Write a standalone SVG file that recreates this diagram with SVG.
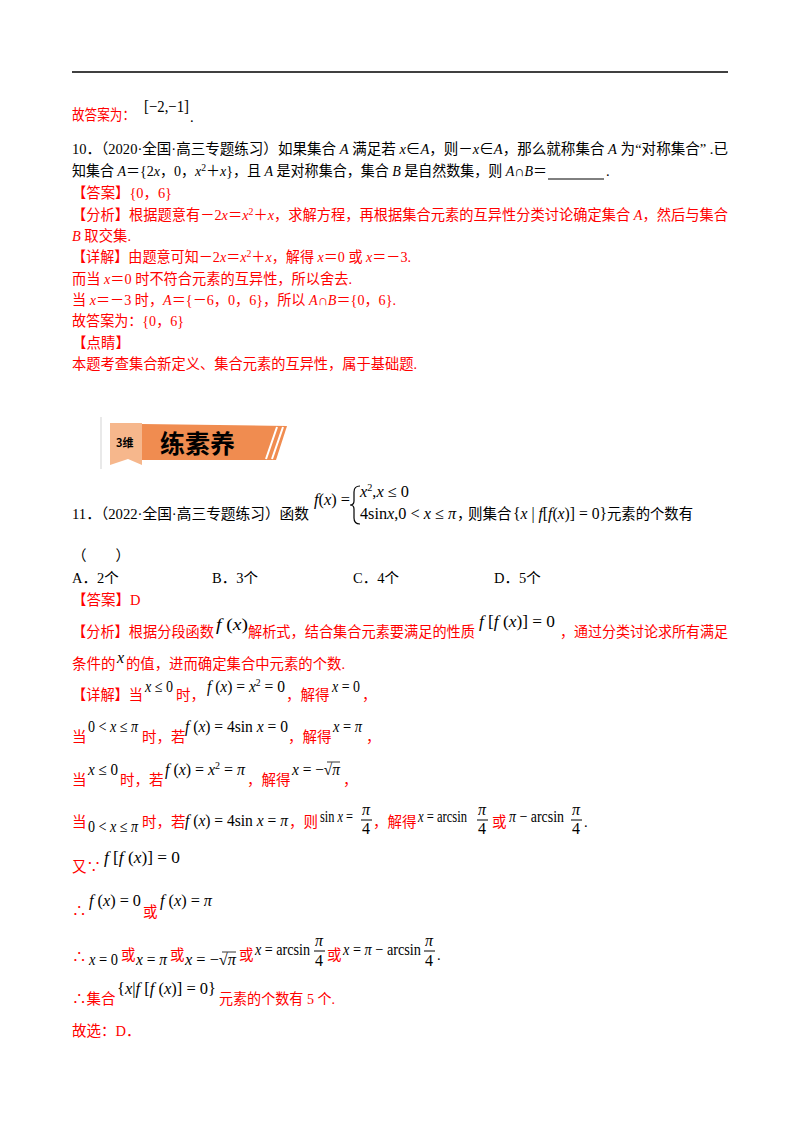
<svg xmlns="http://www.w3.org/2000/svg" width="800" height="1132" viewBox="0 0 800 1132">
<style>
text{font-family:"Liberation Serif","Noto Sans CJK SC",serif;font-size:14.5px;fill:#000}
.r{fill:#ff0000}
.m{font-family:"Liberation Serif",serif;font-size:16px;fill:#000}
.i{font-style:italic}
.s{font-size:10px}
</style>
<rect width="800" height="1132" fill="#fff"/>
<line x1="72" y1="72" x2="728" y2="72" stroke="#000" stroke-width="1.5"/>
<g id="q10">
<text x="72" y="120" class="r" textLength="63" lengthAdjust="spacingAndGlyphs">故答案为：</text>
<text x="144" y="112" class="m" textLength="45" lengthAdjust="spacingAndGlyphs">[−2,−1]</text>
<text x="190" y="122">.</text>
<text x="72" y="154" textLength="656" lengthAdjust="spacingAndGlyphs">10．（2020·全国·高三专题练习）如果集合 <tspan class="i">A</tspan> 满足若 <tspan class="i">x</tspan>∈<tspan class="i">A</tspan>，则－<tspan class="i">x</tspan>∈<tspan class="i">A</tspan>，那么就称集合 <tspan class="i">A</tspan> 为“对称集合” .已</text>
<text x="72" y="176" textLength="475" lengthAdjust="spacingAndGlyphs">知集合 <tspan class="i">A</tspan>＝{2<tspan class="i">x</tspan>，0，<tspan class="i">x</tspan><tspan class="s" dy="-5">2</tspan><tspan dy="5">＋</tspan><tspan class="i">x</tspan>}，且 <tspan class="i">A</tspan> 是对称集合，集合 <tspan class="i">B</tspan> 是自然数集，则 <tspan class="i">A</tspan>∩<tspan class="i">B</tspan>＝</text>
<line x1="548" y1="179" x2="604" y2="179" stroke="#000"/>
<text x="606" y="176">.</text>
<text x="72" y="198" class="r" textLength="100" lengthAdjust="spacingAndGlyphs">【答案】{0，6}</text>
<text x="72" y="220" class="r" textLength="656" lengthAdjust="spacingAndGlyphs">【分析】根据题意有－2<tspan class="i">x</tspan>＝<tspan class="i">x</tspan><tspan class="s" dy="-5">2</tspan><tspan dy="5">＋</tspan><tspan class="i">x</tspan>，求解方程，再根据集合元素的互异性分类讨论确定集合 <tspan class="i">A</tspan>，然后与集合</text>
<text x="72" y="241" class="r" textLength="59" lengthAdjust="spacingAndGlyphs"><tspan class="i">B</tspan> 取交集.</text>
<text x="72" y="262" class="r" textLength="339" lengthAdjust="spacingAndGlyphs">【详解】由题意可知－2<tspan class="i">x</tspan>＝<tspan class="i">x</tspan><tspan class="s" dy="-5">2</tspan><tspan dy="5">＋</tspan><tspan class="i">x</tspan>，解得 <tspan class="i">x</tspan>＝0 或 <tspan class="i">x</tspan>＝－3.</text>
<text x="72" y="284" class="r" textLength="280" lengthAdjust="spacingAndGlyphs">而当 <tspan class="i">x</tspan>＝0 时不符合元素的互异性，所以舍去.</text>
<text x="72" y="305" class="r" textLength="324" lengthAdjust="spacingAndGlyphs">当 <tspan class="i">x</tspan>＝－3 时，<tspan class="i">A</tspan>＝{－6，0，6}，所以 <tspan class="i">A</tspan>∩<tspan class="i">B</tspan>＝{0，6}.</text>
<text x="72" y="326" class="r" textLength="112" lengthAdjust="spacingAndGlyphs">故答案为：{0，6}</text>
<text x="72" y="348" class="r">【点睛】</text>
<text x="72" y="369" class="r" textLength="345" lengthAdjust="spacingAndGlyphs">本题考查集合新定义、集合元素的互异性，属于基础题.</text>
</g>
<g id="banner">
<line x1="101" y1="417" x2="101" y2="469" stroke="#e2e2e2" stroke-width="1.5"/>
<polygon points="142,424 287,426 276,460 142,460" fill="#f08c50"/>
<polygon points="110,423 142,423 142,465 128,459 110,465" fill="#f6b78c"/>
<path d="M266,459 L277,427 M272,459 L283,427 M278,459 L289,427" stroke="#fff" stroke-width="2"/>
<text x="116" y="447" style="font-family:'Noto Sans CJK SC',sans-serif;font-size:11px;font-weight:bold" fill="#333">3维</text>
<text x="160" y="453" style="font-family:'Noto Sans CJK SC',sans-serif;font-size:25px;font-weight:bold" fill="#2a1a10">练素养</text>
</g>
<g id="q11">
<text x="72" y="519" textLength="237" lengthAdjust="spacingAndGlyphs">11．（2022·全国·高三专题练习）函数</text>
<text x="314" y="505" class="m" textLength="36" lengthAdjust="spacingAndGlyphs"><tspan class="i">f</tspan>(<tspan class="i">x</tspan>) =</text>
<path d="M360,486 Q354,486 354,492 L354,501 Q354,505 350,505 Q354,505 354,509 L354,518 Q354,524 360,524" fill="none" stroke="#000" stroke-width="1.2"/>
<text x="360" y="497" class="m" textLength="49" lengthAdjust="spacingAndGlyphs"><tspan class="i">x</tspan><tspan class="s" dy="-6">2</tspan><tspan dy="6">,</tspan><tspan class="i">x</tspan> ≤ 0</text>
<text x="360" y="519" class="m" textLength="96" lengthAdjust="spacingAndGlyphs">4sin<tspan class="i">x</tspan>,0 &lt; <tspan class="i">x</tspan> ≤ <tspan class="i">π</tspan></text>
<text x="457" y="519">，</text>
<text x="468" y="519">则集合</text>
<text x="513" y="519" class="m" textLength="94" lengthAdjust="spacingAndGlyphs">{<tspan class="i">x</tspan> | <tspan class="i">f</tspan>[<tspan class="i">f</tspan>(<tspan class="i">x</tspan>)] = 0}</text>
<text x="607" y="519" textLength="86" lengthAdjust="spacingAndGlyphs">元素的个数有</text>
<text x="72" y="561">（　　）</text>
<text x="72" y="583">A．2个</text>
<text x="212" y="583">B．3个</text>
<text x="353" y="583">C．4个</text>
<text x="494" y="583">D．5个</text>
<text x="72" y="605" class="r">【答案】D</text>
<text x="72" y="637" class="r" textLength="142" lengthAdjust="spacingAndGlyphs">【分析】根据分段函数</text>
<text x="216" y="630" class="m" textLength="32" lengthAdjust="spacingAndGlyphs"><tspan class="i">f</tspan> (<tspan class="i">x</tspan>)</text>
<text x="248" y="637" class="r" textLength="227" lengthAdjust="spacingAndGlyphs">解析式，结合集合元素要满足的性质</text>
<text x="479" y="627" class="m" textLength="76" lengthAdjust="spacingAndGlyphs"><tspan class="i">f</tspan> [<tspan class="i">f</tspan> (<tspan class="i">x</tspan>)] = 0</text>
<text x="560" y="637" class="r" textLength="168" lengthAdjust="spacingAndGlyphs">，通过分类讨论求所有满足</text>
<text x="72" y="669" class="r">条件的</text>
<text x="117" y="663" class="m i">x</text>
<text x="126" y="669" class="r" textLength="219" lengthAdjust="spacingAndGlyphs">的值，进而确定集合中元素的个数.</text>

<text x="72" y="700" class="r" textLength="71" lengthAdjust="spacingAndGlyphs">【详解】当</text>
<text x="145" y="692" class="m" textLength="28" lengthAdjust="spacingAndGlyphs"><tspan class="i">x</tspan> ≤ 0</text>
<text x="176" y="700" class="r">时，</text>
<text x="207" y="692" class="m" textLength="78" lengthAdjust="spacingAndGlyphs"><tspan class="i">f</tspan> (<tspan class="i">x</tspan>) = <tspan class="i">x</tspan><tspan class="s" dy="-6">2</tspan><tspan dy="6"> = 0</tspan></text>
<text x="286" y="700" class="r">，解得</text>
<text x="332" y="692" class="m" textLength="28" lengthAdjust="spacingAndGlyphs"><tspan class="i">x</tspan> = 0</text>
<text x="362" y="700" class="r">，</text>

<text x="72" y="742" class="r">当</text>
<text x="88" y="732" class="m" textLength="50" lengthAdjust="spacingAndGlyphs">0 &lt; <tspan class="i">x</tspan> ≤ <tspan class="i">π</tspan></text>
<text x="142" y="742" class="r">时，若</text>
<text x="185" y="732" class="m" textLength="103" lengthAdjust="spacingAndGlyphs"><tspan class="i">f</tspan> (<tspan class="i">x</tspan>) = 4sin <tspan class="i">x</tspan> = 0</text>
<text x="288" y="742" class="r">，解得</text>
<text x="333" y="732" class="m" textLength="29" lengthAdjust="spacingAndGlyphs"><tspan class="i">x</tspan> = <tspan class="i">π</tspan></text>
<text x="366" y="742" class="r">，</text>

<text x="72" y="785" class="r">当</text>
<text x="88" y="775" class="m" textLength="30" lengthAdjust="spacingAndGlyphs"><tspan class="i">x</tspan> ≤ 0</text>
<text x="120" y="785" class="r">时，若</text>
<text x="165" y="775" class="m" textLength="80" lengthAdjust="spacingAndGlyphs"><tspan class="i">f</tspan> (<tspan class="i">x</tspan>) = <tspan class="i">x</tspan><tspan class="s" dy="-6">2</tspan><tspan dy="6"> = <tspan class="i">π</tspan></tspan></text>
<text x="247" y="785" class="r">，解得</text>
<text x="292" y="775" class="m" textLength="48" lengthAdjust="spacingAndGlyphs"><tspan class="i">x</tspan> = −√<tspan class="i">π</tspan></text>
<line x1="327" y1="762" x2="340" y2="762" stroke="#000" stroke-width="0.8"/>
<text x="343" y="785" class="r">，</text>

<text x="72" y="827" class="r">当</text>
<text x="88" y="832" class="m" textLength="50" lengthAdjust="spacingAndGlyphs">0 &lt; <tspan class="i">x</tspan> ≤ <tspan class="i">π</tspan></text>
<text x="142" y="827" class="r">时，若</text>
<text x="185" y="826" class="m" textLength="103" lengthAdjust="spacingAndGlyphs"><tspan class="i">f</tspan> (<tspan class="i">x</tspan>) = 4sin <tspan class="i">x</tspan> = <tspan class="i">π</tspan></text>
<text x="289" y="827" class="r">，则</text>
<text x="320" y="822" class="m" textLength="33" lengthAdjust="spacingAndGlyphs">sin <tspan class="i">x</tspan> =</text>
<text x="362" y="815" class="m i">π</text><line x1="361" y1="820" x2="372" y2="820" stroke="#000"/><text x="362" y="834" class="m">4</text>
<text x="373" y="827" class="r">，解得</text>
<text x="418" y="822" class="m" textLength="49" lengthAdjust="spacingAndGlyphs"><tspan class="i">x</tspan> = arcsin</text>
<text x="478" y="815" class="m i">π</text><line x1="477" y1="820" x2="488" y2="820" stroke="#000"/><text x="478" y="834" class="m">4</text>
<text x="492" y="827" class="r">或</text>
<text x="509" y="822" class="m" textLength="55" lengthAdjust="spacingAndGlyphs"><tspan class="i">π</tspan> − arcsin</text>
<text x="572" y="815" class="m i">π</text><line x1="571" y1="820" x2="582" y2="820" stroke="#000"/><text x="572" y="834" class="m">4</text>
<text x="584" y="827">.</text>

<text x="72" y="872" class="r">又∵</text>
<text x="104" y="863" class="m" textLength="76" lengthAdjust="spacingAndGlyphs"><tspan class="i">f</tspan> [<tspan class="i">f</tspan> (<tspan class="i">x</tspan>)] = 0</text>

<text x="72" y="916" class="r">∴</text>
<text x="89" y="906" class="m" textLength="52" lengthAdjust="spacingAndGlyphs"><tspan class="i">f</tspan> (<tspan class="i">x</tspan>) = 0</text>
<text x="143" y="917" class="r">或</text>
<text x="160" y="906" class="m" textLength="52" lengthAdjust="spacingAndGlyphs"><tspan class="i">f</tspan> (<tspan class="i">x</tspan>) = <tspan class="i">π</tspan></text>

<text x="72" y="962" class="r">∴</text>
<text x="89" y="965" class="m" textLength="29" lengthAdjust="spacingAndGlyphs"><tspan class="i">x</tspan> = 0</text>
<text x="121" y="960" class="r">或</text>
<text x="136" y="965" class="m" textLength="31" lengthAdjust="spacingAndGlyphs"><tspan class="i">x</tspan> = <tspan class="i">π</tspan></text>
<text x="170" y="960" class="r">或</text>
<text x="185" y="965" class="m" textLength="51" lengthAdjust="spacingAndGlyphs"><tspan class="i">x</tspan> = −√<tspan class="i">π</tspan></text>
<line x1="222" y1="952" x2="236" y2="952" stroke="#000" stroke-width="0.8"/>
<text x="239" y="960" class="r">或</text>
<text x="255" y="955" class="m" textLength="55" lengthAdjust="spacingAndGlyphs"><tspan class="i">x</tspan> = arcsin</text>
<text x="315" y="946" class="m i">π</text><line x1="314" y1="951" x2="325" y2="951" stroke="#000"/><text x="315" y="966" class="m">4</text>
<text x="327" y="960" class="r">或</text>
<text x="343" y="955" class="m" textLength="78" lengthAdjust="spacingAndGlyphs"><tspan class="i">x</tspan> = <tspan class="i">π</tspan> − arcsin</text>
<text x="425" y="946" class="m i">π</text><line x1="424" y1="951" x2="435" y2="951" stroke="#000"/><text x="425" y="966" class="m">4</text>
<text x="437" y="960">.</text>

<text x="72" y="1004" class="r">∴集合</text>
<text x="117" y="994" class="m" textLength="99" lengthAdjust="spacingAndGlyphs">{<tspan class="i">x</tspan>|<tspan class="i">f</tspan> [<tspan class="i">f</tspan> (<tspan class="i">x</tspan>)] = 0}</text>
<text x="219" y="1004" class="r" textLength="116" lengthAdjust="spacingAndGlyphs">元素的个数有 5 个.</text>
<text x="72" y="1036" class="r">故选：D．</text>
</g>
</svg>
